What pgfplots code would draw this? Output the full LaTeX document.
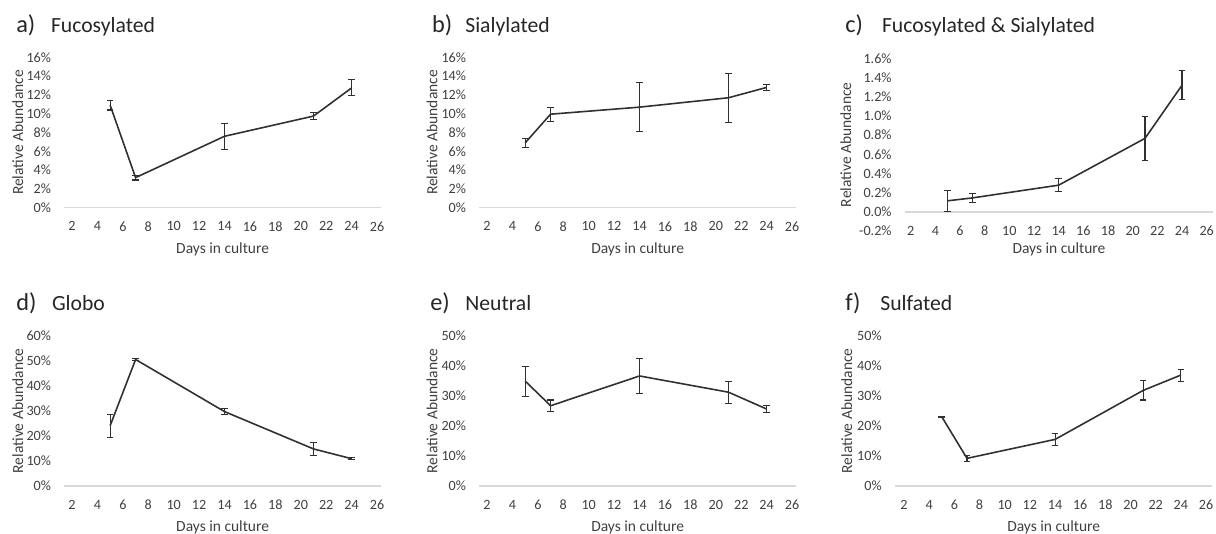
\documentclass[border=0pt]{standalone}
\usepackage{pgfplots}
\pgfplotsset{compat=1.18}
\usepackage{pgfplotstable}
\usepackage{fontspec}
\setmainfont{Carlito}
\definecolor{txt}{HTML}{404040}
\definecolor{ttl}{HTML}{262626}
\definecolor{ln}{HTML}{303030}
\definecolor{ax}{HTML}{D9D9D9}

\pgfplotstableread{
x y e
5 10.9 0.5
7 3.2 0.25
14 7.6 1.37
21 9.75 0.35
24 12.75 0.85
}\dataA
\pgfplotstableread{
x y e
5 6.9 0.45
7 9.95 0.75
14 10.7 2.6
21 11.7 2.6
24 12.8 0.35
}\dataB
\pgfplotstableread{
x y e
5 0.115 0.11
7 0.145 0.045
14 0.278 0.065
21 0.766 0.23
24 1.32 0.15
}\dataC
\pgfplotstableread{
x y e
5 24.1 4.6
7 50.5 0.5
14 29.7 1.3
21 14.8 2.6
24 10.9 0.4
}\dataD
\pgfplotstableread{
x y e
5 34.9 5.0
7 26.7 1.9
14 36.6 5.7
21 31.2 3.7
24 25.6 1.2
}\dataE
\pgfplotstableread{
x y e
5 23.0 0.15
7 9.2 1.1
14 15.5 2.1
21 31.8 3.2
24 36.9 2.0
}\dataF

\pgfplotsset{
 panel/.style={
  scale only axis, anchor=south west,
  axis x line=bottom, axis y line=left,
  axis line style={draw=none},
  major tick length=0pt,
  xtick={2,4,...,26},
  xticklabels={2,4,6,8,10,12,14,16,18,20,22,24,26},
  tick label style={font=\fontsize{8.5}{10}\selectfont, text=txt},
  label style={font=\fontsize{9.3}{11}\selectfont, text=txt},
  yticklabel style={anchor=east, xshift=-4.5pt},
  xlabel={Days in culture}, ylabel={Relative Abundance},
  xlabel style={at={([yshift=-24.8pt]axis description cs:0.5,0)}, anchor=center},
  extra y ticks={0}, extra y tick labels={},
  extra y tick style={grid=major, major grid style={draw=ax, line width=0.9pt}},
  clip=false,
 },
 lowx/.style={xticklabel style={anchor=center, yshift=-11.2pt}},
 ylab/.style={ylabel style={at={([xshift=-#1]axis description cs:0,0.5)}, anchor=center}},
 ser/.style={ln, line width=0.95pt, mark=none,
  error bars/y dir=both, error bars/y explicit,
  error bars/error bar style={line width=0.65pt, ln},
  error bars/error mark options={rotate=90, mark size=2pt, line width=0.65pt, ln}},
}
\newcommand{\ptitle}[4]{%
 \node[anchor=base west, inner sep=0, font=\fontsize{14.6}{16}\selectfont, text=ttl] at (#1) {#3};
 \node[anchor=base west, inner sep=0, font=\fontsize{13}{15}\selectfont, text=ttl] at (#2) {#4};}

\begin{document}
\begin{tikzpicture}
\useasboundingbox (0,0) rectangle (729.6pt,-319.8pt);

% a
\begin{axis}[panel, lowx, ylab=28pt, at={(38.64pt,-124.6pt)}, width=189.9pt, height=90.2pt,
  xmin=1.4, xmax=26.3, ymin=0, ymax=16,
  ytick={0,2,...,16}, yticklabels={0\%,2\%,4\%,6\%,8\%,10\%,12\%,14\%,16\%}]
\addplot[ser] table[x=x,y=y,y error=e]{\dataA};
\end{axis}
\ptitle{9.6pt,-19.4pt}{30.4pt,-19.4pt}{a)}{Fucosylated}

% b
\begin{axis}[panel, lowx, ylab=28.4pt, at={(287.64pt,-124.6pt)}, width=189.9pt, height=90.2pt,
  xmin=1.4, xmax=26.3, ymin=0, ymax=16,
  ytick={0,2,...,16}, yticklabels={0\%,2\%,4\%,6\%,8\%,10\%,12\%,14\%,16\%}]
\addplot[ser] table[x=x,y=y,y error=e]{\dataB};
\end{axis}
\ptitle{259pt,-19.4pt}{279pt,-19.4pt}{b)}{Sialylated}

% c
\begin{axis}[panel, ylab=35.6pt, at={(543pt,-138.6pt)}, width=184.7pt, height=103.6pt,
  xmin=1.54, xmax=26.5, ymin=-0.2, ymax=1.6,
  ytick={-0.2,0,0.2,0.4,0.6,0.8,1.0,1.2,1.4,1.6},
  yticklabels={-0.2\%,0.0\%,0.2\%,0.4\%,0.6\%,0.8\%,1.0\%,1.2\%,1.4\%,1.6\%},
  xticklabel style={anchor=center},
  xlabel style={at={([yshift=-11pt]axis description cs:0.5,0)}, anchor=center}]
\addplot[ser] table[x=x,y=y,y error=e]{\dataC};
\end{axis}
\ptitle{507pt,-19.4pt}{529pt,-19.4pt}{c)}{Fucosylated \& Sialylated}

% d
\begin{axis}[panel, lowx, ylab=28pt, at={(38.64pt,-291.6pt)}, width=189.9pt, height=90.2pt,
  xmin=1.4, xmax=26.3, ymin=0, ymax=60,
  ytick={0,10,...,60}, yticklabels={0\%,10\%,20\%,30\%,40\%,50\%,60\%}]
\addplot[ser] table[x=x,y=y,y error=e]{\dataD};
\end{axis}
\ptitle{9.6pt,-186.4pt}{31pt,-186.4pt}{d)}{Globo}

% e
\begin{axis}[panel, lowx, ylab=28.4pt, at={(287.64pt,-291.6pt)}, width=189.9pt, height=90.2pt,
  xmin=1.4, xmax=26.3, ymin=0, ymax=50,
  ytick={0,10,...,50}, yticklabels={0\%,10\%,20\%,30\%,40\%,50\%}]
\addplot[ser] table[x=x,y=y,y error=e]{\dataE};
\end{axis}
\ptitle{258pt,-186.4pt}{279pt,-186.4pt}{e)}{Neutral}

% f
\begin{axis}[panel, lowx, ylab=29pt, at={(537pt,-291.6pt)}, width=190.4pt, height=90.2pt,
  xmin=1.28, xmax=26.5, ymin=0, ymax=50,
  ytick={0,10,...,50}, yticklabels={0\%,10\%,20\%,30\%,40\%,50\%}]
\addplot[ser] table[x=x,y=y,y error=e]{\dataF};
\end{axis}
\ptitle{507pt,-186.4pt}{528pt,-186.4pt}{f)}{Sulfated}

\end{tikzpicture}
\end{document}
